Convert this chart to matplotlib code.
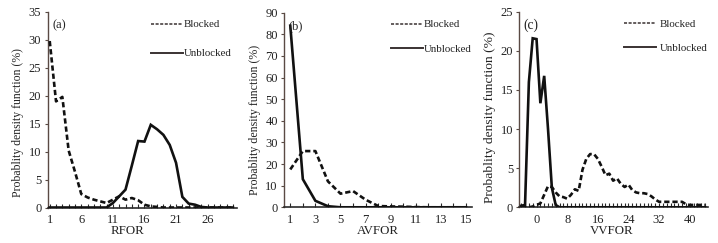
import matplotlib
matplotlib.use("Agg")
import matplotlib.pyplot as plt
from matplotlib.lines import Line2D
from matplotlib.ticker import MultipleLocator, FixedLocator

plt.rcParams['font.family'] = ['Liberation Serif', 'DejaVu Serif']

# ---------------- data ----------------
# (a) RFOR
rfor_x = list(range(1, 31))
rfor_blocked = [29.8, 19.0, 19.8, 10.2, 6.4, 2.4, 1.8, 1.4, 1.1, 0.8,
                1.4, 2.0, 1.4, 1.7, 1.3, 0.5, 0.2, 0.1, 0.0, 0.0,
                0.0, 0.0, 0.0, 0.0, 0.0, 0.0, 0.0, 0.0, 0.0, 0.0]
rfor_unblocked = [0.0, 0.0, 0.0, 0.0, 0.0, 0.0, 0.0, 0.0, 0.0, 0.0,
                  0.8, 2.0, 3.2, 7.5, 11.9, 11.8, 14.8, 14.0, 13.0, 11.2,
                  8.0, 1.9, 0.7, 0.5, 0.1, 0.0, 0.0, 0.0, 0.0, 0.0]

# (b) AVFOR
avfor_x = list(range(1, 16))
avfor_blocked = [17.5, 26.0, 26.0, 12.0, 6.3, 7.5, 3.5, 0.6, 0.4, 0.3,
                 0.1, 0.0, 0.0, 0.0, 0.0]
avfor_unblocked = [84.0, 13.0, 3.0, 0.5, 0.0, 0.0, 0.0, 0.0, 0.0, 0.0,
                   0.0, 0.0, 0.0, 0.0, 0.0]

# (c) VVFOR
vvfor_x = list(range(-4, 45))
vvfor_blocked = [0.0, 0.0, 0.0, 0.1, 0.3, 0.5, 1.6, 2.7, 2.6, 1.9,
                 1.4, 1.3, 1.1, 1.6, 2.3, 2.1, 4.8, 6.2, 6.8, 6.8,
                 6.2, 5.2, 4.1, 4.3, 3.4, 3.7, 3.0, 2.6, 2.9, 2.2,
                 1.9, 1.8, 1.8, 1.7, 1.4, 1.0, 0.7, 0.7, 0.7, 0.7,
                 0.7, 0.7, 0.7, 0.4, 0.3, 0.3, 0.3, 0.3, 0.3]
vvfor_unblocked = [0.2, 0.3, 16.0, 21.6, 21.5, 13.3, 16.8, 10.0, 2.5, 0.3,
                   0.0, 0.0, 0.0, 0.0, 0.0, 0.0, 0.0, 0.0, 0.0, 0.0,
                   0.0, 0.0, 0.0, 0.0, 0.0, 0.0, 0.0, 0.0, 0.0, 0.0,
                   0.0, 0.0, 0.0, 0.0, 0.0, 0.0, 0.0, 0.0, 0.0, 0.0,
                   0.0, 0.0, 0.0, 0.0, 0.0, 0.0, 0.0, 0.0, 0.0]

series_labels = ["Blocked", "Unblocked"]
ylabel_text = "Probablity density function (%)"

# ---------------- figure ----------------
W, H = 718, 243
fig = plt.figure(figsize=(W / 100, H / 100), dpi=100)

def rect(l, r, t, b):
    return [l / W, (H - b) / H, (r - l) / W, (b - t) / H]

panels = [
    dict(rect=rect(47.5, 237, 12, 207.5), x=rfor_x, blk=rfor_blocked, unb=rfor_unblocked,
         xlim=(0.65, 30.65), ylim=(0, 35), ystep=5, xticks=[1, 6, 11, 16, 21, 26],
         minor=rfor_x, xlabel="RFOR", xlabel_x=0.42, tag="(a)", tagsize=9,
         ylsize=8.5, yl_xy=(-0.124, 0.437), leg_x=0.548, leg_y=0.96, leg_sp=1.8, htp=0.1),
    dict(rect=rect(284, 471.7, 12.7, 207.3), x=avfor_x, blk=avfor_blocked, unb=avfor_unblocked,
         xlim=(0.5, 15.45), ylim=(0, 90), ystep=10, xticks=[1, 3, 5, 7, 9, 11, 13, 15],
         minor=avfor_x, xlabel="AVFOR", xlabel_x=0.5, tag="(b)", tagsize=9,
         ylsize=8.6, yl_xy=(-0.124, 0.449), leg_x=0.572, leg_y=0.963, leg_sp=1.4, htp=0.1),
    dict(rect=rect(519.3, 708.3, 11.7, 207.3), x=vvfor_x, blk=vvfor_blocked, unb=vvfor_unblocked,
         xlim=(-4.5, 44.85), ylim=(0, 25), ystep=5, xticks=[0, 8, 16, 24, 32, 40],
         minor=vvfor_x, xlabel="VVFOR", xlabel_x=0.49, tag="(c)", tagsize=9.8,
         ylsize=9.7, yl_xy=(-0.122, 0.459), leg_x=0.556, leg_y=0.96, leg_sp=1.3, htp=0.4),
]

spine_left = '#5a4a44'
spine_bottom = '#2a2a2a'
text_col = '#222222'

for p in panels:
    ax = fig.add_axes(p['rect'])
    ax.plot(p['x'], p['unb'], color='#111111', lw=1.9, solid_joinstyle='miter', zorder=3)
    ax.plot(p['x'], p['blk'], color='#111111', lw=1.9, dashes=(2.0, 1.1), zorder=3)
    ax.set_xlim(*p['xlim'])
    ax.set_ylim(*p['ylim'])
    ax.yaxis.set_major_locator(MultipleLocator(p['ystep']))
    ax.xaxis.set_major_locator(FixedLocator(p['xticks']))
    ax.xaxis.set_minor_locator(FixedLocator(p['minor']))
    for s in ['top', 'right']:
        ax.spines[s].set_visible(False)
    ax.spines['left'].set_color(spine_left)
    ax.spines['left'].set_linewidth(1.0)
    ax.spines['bottom'].set_color(spine_bottom)
    ax.spines['bottom'].set_linewidth(1.2)
    ax.tick_params(axis='y', direction='out', length=2.5, width=0.8, pad=2,
                   colors=spine_left, labelsize=9, labelcolor=text_col)
    ax.tick_params(axis='x', which='both', direction='in', length=3, width=0.8,
                   colors=spine_bottom, labelsize=9, labelcolor=text_col, pad=4.5)
    ax.set_xlabel(p['xlabel'], fontsize=9.3, color=text_col)
    ax.xaxis.set_label_coords(p['xlabel_x'], -0.09)
    ax.xaxis.label.set_va('top')
    ax.set_ylabel(ylabel_text, fontsize=p['ylsize'], color=text_col)
    ax.yaxis.set_label_coords(*p['yl_xy'])
    ax.text(0.06, 0.93, p['tag'], transform=ax.transAxes, ha='center', va='center',
            fontsize=p['tagsize'], color=text_col)
    handles = [Line2D([], [], color='#3a3232', lw=1.1, dashes=(2, 1)),
               Line2D([], [], color='#3a3232', lw=1.4)]
    ax.legend(handles, series_labels, loc='upper left', bbox_to_anchor=(p['leg_x'], p['leg_y']),
              frameon=False, fontsize=7.8, handlelength=2.9, handletextpad=p['htp'],
              borderpad=0, borderaxespad=0, labelspacing=p['leg_sp'], labelcolor=text_col)

fig.savefig("out.png", dpi=100)
